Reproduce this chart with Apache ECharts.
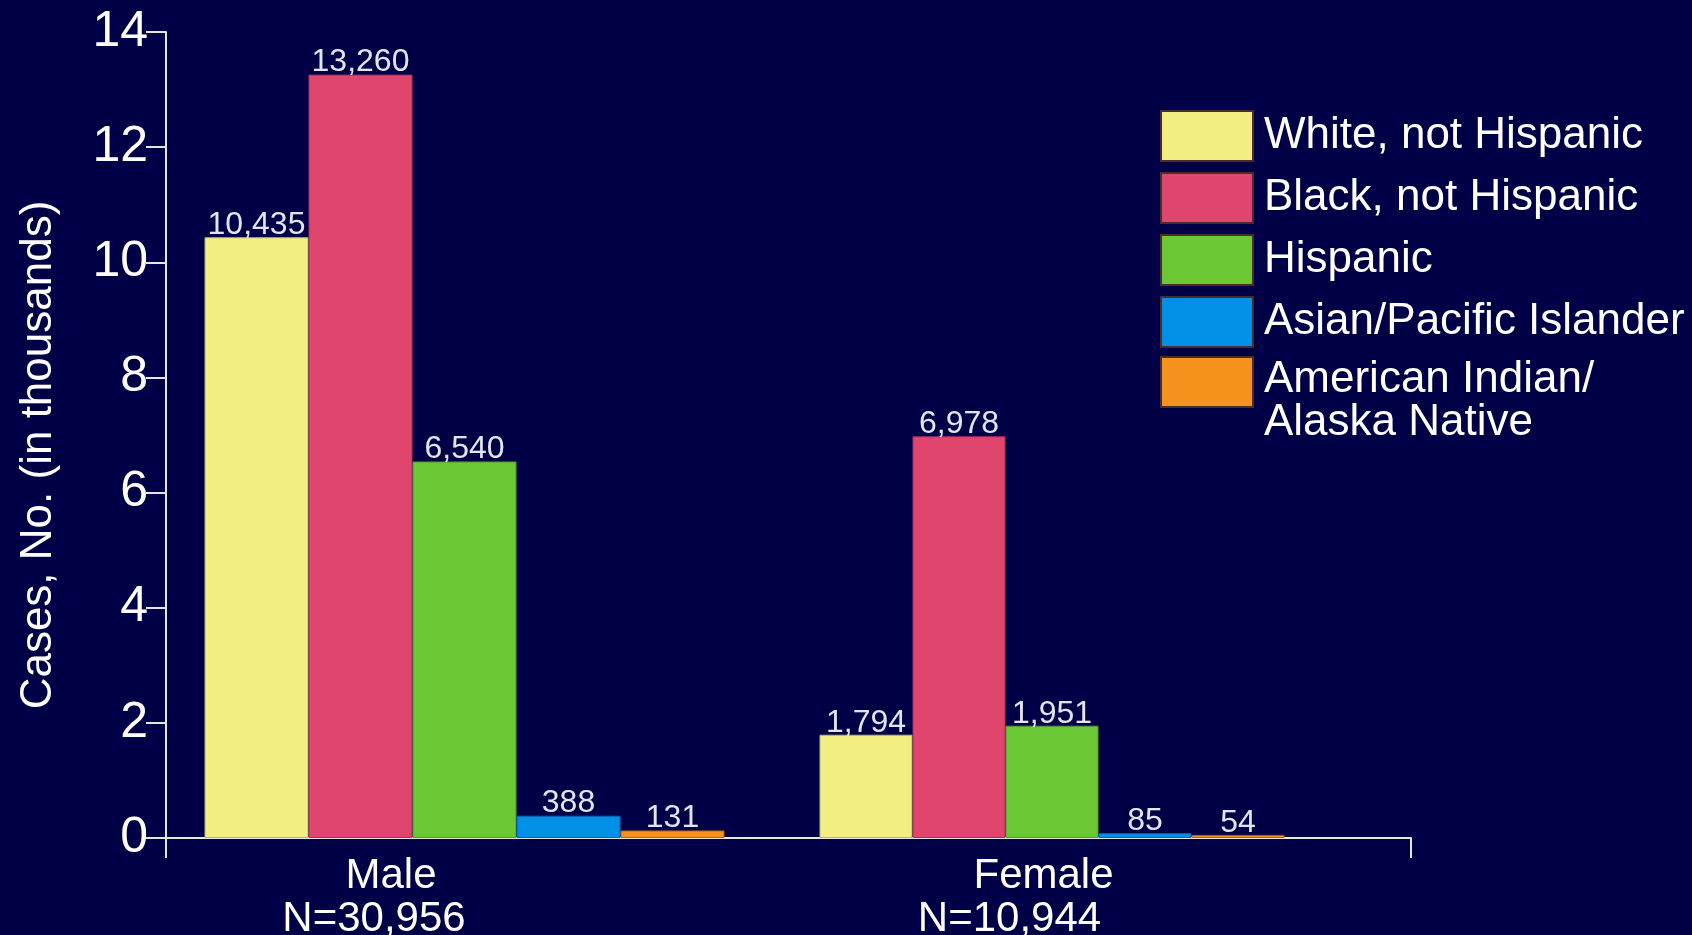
<!DOCTYPE html>
<html>
<head>
<meta charset="utf-8">
<script src="https://cdn.jsdelivr.net/npm/echarts@6/dist/echarts.min.js"></script>
<style>
  html, body { margin: 0; padding: 0; background: #000046; }
  #chart { width: 1692px; height: 935px; }
</style>
</head>
<body>
<div id="chart"></div>
<script>
// Reported cases by sex and race/ethnicity
const groups = ['Male', 'Female'];
const groupTotals = [30956, 10944];
const races = [
  'White, not Hispanic',
  'Black, not Hispanic',
  'Hispanic',
  'Asian/Pacific Islander',
  'American Indian/Alaska Native'
];
const maleCases = [10435, 13260, 6540, 388, 131];
const femaleCases = [1794, 6978, 1951, 85, 54];
const raceColors = ['#F2EE82', '#DF456D', '#6BC834', '#0090E8', '#F6921E'];
const raceBorders = ['#b9b66a', '#a8315a', '#4e9a28', '#0a62a8', '#b8600e'];
const yMin = 0, yMax = 14000, yStep = 2000;

const fmt = v => v.toLocaleString('en-US');
const SANS = '"Liberation Sans", Arial, sans-serif';
const AXIS_COLOR = '#e6e6e6';

// tick numbers use a narrow face when one is installed
function hasFont(name) {
  const ctx = document.createElement('canvas').getContext('2d');
  ctx.font = '56px monospace';
  const base = ctx.measureText('14,Wiq').width;
  ctx.font = `56px "${name}", monospace`;
  return Math.abs(ctx.measureText('14,Wiq').width - base) > 0.5;
}
const narrowFace = ['Liberation Sans Narrow', 'Arial Narrow'].find(hasFont);
const tickFont = narrowFace
  ? { fontFamily: `"${narrowFace}", sans-serif`, fontSize: 56 }
  : { fontFamily: SANS, fontSize: 50 };

const chart = echarts.init(document.getElementById('chart'));

const groupLabel = (pads, i) => ({
  interval: 0,
  margin: 17,
  formatter: v => `{c|${v}}\n{n|N=${fmt(groupTotals[i])}}`,
  rich: {
    c: { fontSize: 42, lineHeight: 43, color: '#ffffff', fontFamily: SANS, padding: pads[0] },
    n: { fontSize: 42, lineHeight: 43, color: '#ffffff', fontFamily: SANS, padding: pads[1] }
  }
});

const series = [];
races.forEach((race, i) => {
  [[maleCases, 1, 104], [femaleCases, 2, 93]].forEach(([arr, idx, w]) => {
    series.push({
      type: 'bar',
      name: race,
      xAxisIndex: idx,
      yAxisIndex: idx,
      data: [arr[i]],
      barWidth: w,
      barGap: '0%',
      itemStyle: { color: raceColors[i], borderColor: raceBorders[i], borderWidth: 1 },
      label: {
        show: true,
        position: 'top',
        distance: 1,
        offset: [0, 5],
        color: '#e4e4f0',
        fontSize: 32,
        fontFamily: SANS,
        formatter: p => fmt(p.value)
      },
      emphasis: { disabled: true }
    });
  });
});

const hiddenValueAxis = idx => ({
  gridIndex: idx, type: 'value', min: yMin, max: yMax, interval: yStep, show: false,
  splitLine: { show: false }
});

const legendText = { color: '#ffffff', fontSize: 44, lineHeight: 43, fontFamily: SANS };
const legendBase = {
  orient: 'vertical',
  left: 1160,
  padding: 0,
  itemWidth: 92,
  itemHeight: 50,
  itemGap: 10,
  icon: 'rect',
  selectedMode: false,
  itemStyle: { borderColor: '#4a2c2c', borderWidth: 2 },
  textStyle: Object.assign({ padding: [0, 0, 0, 6] }, legendText)
};

const plotBox = { top: 32, height: 806, outerBoundsMode: 'none', containLabel: false };

chart.setOption({
  backgroundColor: '#000046',
  animation: false,
  grid: [
    Object.assign({ left: 166, width: 1245 }, plotBox),
    Object.assign({ left: 166, width: 597 }, plotBox),
    Object.assign({ left: 693, width: 718 }, plotBox)
  ],
  legend: [
    Object.assign({}, legendBase, { top: 110, data: races.slice(0, 4) }),
    Object.assign({}, legendBase, {
      top: 334,
      data: races.slice(4),
      // two-line entry: first line sits beside the swatch, second below it
      formatter: n => {
        const cut = n.indexOf('/') + 1;
        return `{s| }\n{t|${n.slice(0, cut)}}\n{t|${n.slice(cut)}}`;
      },
      textStyle: {
        padding: [0, 0, 0, 6],
        rich: {
          s: { fontSize: 10, lineHeight: 39 },
          t: legendText
        }
      }
    })
  ],
  xAxis: [
    {
      // frame axis: baseline with end ticks
      gridIndex: 0,
      type: 'value',
      min: 0,
      max: 2,
      interval: 2,
      axisLine: { show: true, lineStyle: { color: AXIS_COLOR, width: 2 } },
      axisTick: { show: true, length: 20, lineStyle: { color: AXIS_COLOR, width: 2 } },
      axisLabel: { show: false },
      splitLine: { show: false }
    },
    {
      gridIndex: 1, type: 'category', data: [groups[0]],
      axisLine: { show: false }, axisTick: { show: false },
      axisLabel: groupLabel([[0, 147, 0, 0], [0, 181, 0, 0]], 0)
    },
    {
      gridIndex: 2, type: 'category', data: [groups[1]],
      axisLine: { show: false }, axisTick: { show: false },
      axisLabel: groupLabel([[0, 17, 0, 0], [0, 85, 0, 0]], 1)
    }
  ],
  yAxis: [
    {
      gridIndex: 0,
      type: 'value',
      min: yMin,
      max: yMax,
      interval: yStep,
      name: 'Cases, No. (in thousands)',
      nameLocation: 'middle',
      nameGap: 105,
      nameRotate: 90,
      nameTextStyle: { color: '#ffffff', fontSize: 44, fontFamily: SANS, padding: [0, 40, 0, 0] },
      axisLine: { show: true, lineStyle: { color: AXIS_COLOR, width: 2 } },
      axisTick: { show: true, length: 20, lineStyle: { color: AXIS_COLOR, width: 2 } },
      splitLine: { show: false },
      axisLabel: Object.assign({
        margin: 18,
        padding: [3, 0, 0, 0],
        color: '#ffffff',
        formatter: v => String(v / 1000)
      }, tickFont)
    },
    hiddenValueAxis(1),
    hiddenValueAxis(2)
  ],
  series
});
</script>
</body>
</html>
